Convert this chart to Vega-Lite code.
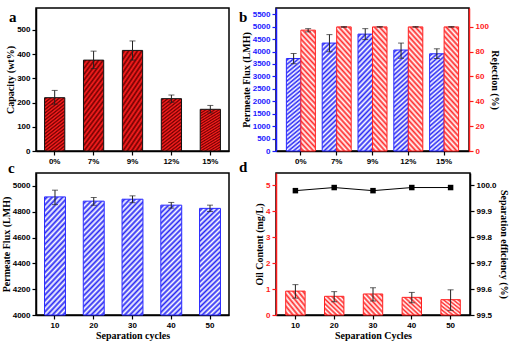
{
  "$schema": "https://vega.github.io/schema/vega-lite/v6.json",
  "padding": {"left": 0, "top": 7, "right": 5, "bottom": 5},
  "background": "white",
  "config": {
    "view": {"stroke": "black", "strokeWidth": 1.5},
    "axis": {"labelFont": "Liberation Sans", "labelFontWeight": "bold", "labelFontSize": 8, "titleFont": "Liberation Serif", "titleFontWeight": "bold", "titleFontSize": 10, "domainColor": "black", "domainWidth": 1.5, "tickColor": "black", "tickSize": 4, "tickWidth": 1.2, "labelColor": "black", "titleColor": "black", "grid": false, "labelPadding": 2, "titlePadding": 1, "labelOverlap": false, "labelBound": false},
    "title": {"font": "Liberation Serif", "fontSize": 15, "fontWeight": "bold", "color": "black", "anchor": "start", "frame": "group"}
  },
  "bounds": "flush",
  "columns": 2,
  "spacing": {"row": 22, "column": 47},
  "concat": [
        {
          "width": 193, "height": 143,
          "title": {"text": "a", "dx": -27, "dy": 21},
          "data": {"values": [
            {"conc": "0%", "capacity": 220, "lo": 193, "hi": 250},
            {"conc": "7%", "capacity": 375, "lo": 340, "hi": 412},
            {"conc": "9%", "capacity": 415, "lo": 375, "hi": 454},
            {"conc": "12%", "capacity": 216, "lo": 201, "hi": 231},
            {"conc": "15%", "capacity": 172, "lo": 157, "hi": 188}
          ]},
          "encoding": {
            "x": {"field": "conc", "type": "nominal", "sort": null, "scale": {"paddingInner": 0.48, "paddingOuter": 0.22}, "axis": {"title": null, "labelAngle": 0}}
          },
          "layer": [
            {"mark": {"type": "bar", "stroke": "#111111", "strokeWidth": 1,
               "fill": {"gradient": "linear", "x1": 0, "y1": 0, "x2": 0.358, "y2": 1.193, "stops": [
                 {"offset": 0, "color": "#ff2020"}, {"offset": 0.025, "color": "#700000"}, {"offset": 0.05, "color": "#ff2020"}, {"offset": 0.075, "color": "#700000"},
                 {"offset": 0.1, "color": "#ff2020"}, {"offset": 0.125, "color": "#700000"}, {"offset": 0.15, "color": "#ff2020"}, {"offset": 0.175, "color": "#700000"},
                 {"offset": 0.2, "color": "#ff2020"}, {"offset": 0.225, "color": "#700000"}, {"offset": 0.25, "color": "#ff2020"}, {"offset": 0.275, "color": "#700000"},
                 {"offset": 0.3, "color": "#ff2020"}, {"offset": 0.325, "color": "#700000"}, {"offset": 0.35, "color": "#ff2020"}, {"offset": 0.375, "color": "#700000"},
                 {"offset": 0.4, "color": "#ff2020"}, {"offset": 0.425, "color": "#700000"}, {"offset": 0.45, "color": "#ff2020"}, {"offset": 0.475, "color": "#700000"},
                 {"offset": 0.5, "color": "#ff2020"}, {"offset": 0.525, "color": "#700000"}, {"offset": 0.55, "color": "#ff2020"}, {"offset": 0.575, "color": "#700000"},
                 {"offset": 0.6, "color": "#ff2020"}, {"offset": 0.625, "color": "#700000"}, {"offset": 0.65, "color": "#ff2020"}, {"offset": 0.675, "color": "#700000"},
                 {"offset": 0.7, "color": "#ff2020"}, {"offset": 0.725, "color": "#700000"}, {"offset": 0.75, "color": "#ff2020"}, {"offset": 0.775, "color": "#700000"},
                 {"offset": 0.8, "color": "#ff2020"}, {"offset": 0.825, "color": "#700000"}, {"offset": 0.85, "color": "#ff2020"}, {"offset": 0.875, "color": "#700000"},
                 {"offset": 0.9, "color": "#ff2020"}, {"offset": 0.925, "color": "#700000"}, {"offset": 0.95, "color": "#ff2020"}, {"offset": 0.975, "color": "#700000"},
                 {"offset": 1, "color": "#ff2020"}]}},
             "encoding": {"y": {"field": "capacity", "type": "quantitative", "scale": {"domain": [0, 590], "nice": false}, "axis": {"title": "Capacity (wt%)", "values": [0, 100, 200, 300, 400, 500]}}}},
            {"mark": {"type": "rule", "color": "#222222", "strokeWidth": 1}, "encoding": {"y": {"field": "lo", "type": "quantitative", "axis": {"title": "Capacity (wt%)", "values": [0, 100, 200, 300, 400, 500]}}, "y2": {"field": "hi"}}},
            {"mark": {"type": "tick", "color": "#222222", "size": 6, "thickness": 1}, "encoding": {"y": {"field": "lo", "type": "quantitative", "axis": {"title": "Capacity (wt%)", "values": [0, 100, 200, 300, 400, 500]}}}},
            {"mark": {"type": "tick", "color": "#222222", "size": 6, "thickness": 1}, "encoding": {"y": {"field": "hi", "type": "quantitative", "axis": {"title": "Capacity (wt%)", "values": [0, 100, 200, 300, 400, 500]}}}}
          ]
        },
        {
          "width": 193, "height": 143,
          "title": {"text": "b", "dx": -37, "dy": 21},
          "data": {"values": [
            {"conc": "0%", "series": "flux", "value": 3720, "lo": 3510, "hi": 3920},
            {"conc": "7%", "series": "flux", "value": 4340, "lo": 3990, "hi": 4680},
            {"conc": "9%", "series": "flux", "value": 4700, "lo": 4480, "hi": 4920},
            {"conc": "12%", "series": "flux", "value": 4060, "lo": 3730, "hi": 4340},
            {"conc": "15%", "series": "flux", "value": 3910, "lo": 3720, "hi": 4110},
            {"conc": "0%", "series": "rej", "value": 97.2, "lo": 95.8, "hi": 98.4},
            {"conc": "7%", "series": "rej", "value": 99.8, "lo": 99.5, "hi": 100.0},
            {"conc": "9%", "series": "rej", "value": 99.8, "lo": 99.6, "hi": 100.0},
            {"conc": "12%", "series": "rej", "value": 99.8, "lo": 99.6, "hi": 100.0},
            {"conc": "15%", "series": "rej", "value": 99.8, "lo": 99.6, "hi": 100.0}
          ]},
          "encoding": {
            "x": {"field": "conc", "type": "nominal", "sort": null, "scale": {"paddingInner": 0.19, "paddingOuter": 0.29}, "axis": {"title": null, "labelAngle": 0}},
            "xOffset": {"field": "series", "type": "nominal", "scale": {"domain": ["flux", "rej"], "paddingInner": 0, "paddingOuter": 0}}
          },
          "layer": [
            {
              "transform": [{"filter": "datum.series === 'flux'"}],
              "layer": [
                {"mark": {"type": "bar", "stroke": "#2a2aff", "strokeWidth": 1,
                   "fill": {"gradient": "linear", "x1": 0, "y1": 0, "x2": 0.144, "y2": 1.111, "stops": [
                     {"offset": 0, "color": "#ffffff"}, {"offset": 0.02, "color": "#2828f4"}, {"offset": 0.04, "color": "#ffffff"}, {"offset": 0.06, "color": "#2828f4"},
                     {"offset": 0.08, "color": "#ffffff"}, {"offset": 0.1, "color": "#2828f4"}, {"offset": 0.12, "color": "#ffffff"}, {"offset": 0.14, "color": "#2828f4"},
                     {"offset": 0.16, "color": "#ffffff"}, {"offset": 0.18, "color": "#2828f4"}, {"offset": 0.2, "color": "#ffffff"}, {"offset": 0.22, "color": "#2828f4"},
                     {"offset": 0.24, "color": "#ffffff"}, {"offset": 0.26, "color": "#2828f4"}, {"offset": 0.28, "color": "#ffffff"}, {"offset": 0.3, "color": "#2828f4"},
                     {"offset": 0.32, "color": "#ffffff"}, {"offset": 0.34, "color": "#2828f4"}, {"offset": 0.36, "color": "#ffffff"}, {"offset": 0.38, "color": "#2828f4"},
                     {"offset": 0.4, "color": "#ffffff"}, {"offset": 0.42, "color": "#2828f4"}, {"offset": 0.44, "color": "#ffffff"}, {"offset": 0.46, "color": "#2828f4"},
                     {"offset": 0.48, "color": "#ffffff"}, {"offset": 0.5, "color": "#2828f4"}, {"offset": 0.52, "color": "#ffffff"}, {"offset": 0.54, "color": "#2828f4"},
                     {"offset": 0.56, "color": "#ffffff"}, {"offset": 0.58, "color": "#2828f4"}, {"offset": 0.6, "color": "#ffffff"}, {"offset": 0.62, "color": "#2828f4"},
                     {"offset": 0.64, "color": "#ffffff"}, {"offset": 0.66, "color": "#2828f4"}, {"offset": 0.68, "color": "#ffffff"}, {"offset": 0.7, "color": "#2828f4"},
                     {"offset": 0.72, "color": "#ffffff"}, {"offset": 0.74, "color": "#2828f4"}, {"offset": 0.76, "color": "#ffffff"}, {"offset": 0.78, "color": "#2828f4"},
                     {"offset": 0.8, "color": "#ffffff"}, {"offset": 0.82, "color": "#2828f4"}, {"offset": 0.84, "color": "#ffffff"}, {"offset": 0.86, "color": "#2828f4"},
                     {"offset": 0.88, "color": "#ffffff"}, {"offset": 0.9, "color": "#2828f4"}, {"offset": 0.92, "color": "#ffffff"}, {"offset": 0.94, "color": "#2828f4"},
                     {"offset": 0.96, "color": "#ffffff"}, {"offset": 0.98, "color": "#2828f4"}, {"offset": 1, "color": "#ffffff"}]}},
                 "encoding": {"y": {"field": "value", "type": "quantitative", "scale": {"domain": [0, 5750], "nice": false}, "axis": {"title": "Permeate Flux (LMH)", "orient": "left", "format": "d", "values": [0, 500, 1000, 1500, 2000, 2500, 3000, 3500, 4000, 4500, 5000, 5500], "labelColor": "#1a1aff", "tickColor": "#1a1aff", "domainColor": "#1a1aff"}}}},
                {"mark": {"type": "rule", "color": "#222222", "strokeWidth": 1}, "encoding": {"y": {"field": "lo", "type": "quantitative", "axis": {"title": "Permeate Flux (LMH)", "orient": "left", "format": "d", "values": [0, 500, 1000, 1500, 2000, 2500, 3000, 3500, 4000, 4500, 5000, 5500], "labelColor": "#1a1aff", "tickColor": "#1a1aff", "domainColor": "#1a1aff"}}, "y2": {"field": "hi"}}},
                {"mark": {"type": "tick", "color": "#222222", "size": 6, "thickness": 1}, "encoding": {"y": {"field": "lo", "type": "quantitative", "axis": {"title": "Permeate Flux (LMH)", "orient": "left", "format": "d", "values": [0, 500, 1000, 1500, 2000, 2500, 3000, 3500, 4000, 4500, 5000, 5500], "labelColor": "#1a1aff", "tickColor": "#1a1aff", "domainColor": "#1a1aff"}}}},
                {"mark": {"type": "tick", "color": "#222222", "size": 6, "thickness": 1}, "encoding": {"y": {"field": "hi", "type": "quantitative", "axis": {"title": "Permeate Flux (LMH)", "orient": "left", "format": "d", "values": [0, 500, 1000, 1500, 2000, 2500, 3000, 3500, 4000, 4500, 5000, 5500], "labelColor": "#1a1aff", "tickColor": "#1a1aff", "domainColor": "#1a1aff"}}}}
              ]
            },
            {
              "transform": [{"filter": "datum.series === 'rej'"}],
              "layer": [
                {"mark": {"type": "bar", "stroke": "#ff2020", "strokeWidth": 1,
                   "fill": {"gradient": "linear", "x1": 0, "y1": 1, "x2": 0.144, "y2": -0.111, "stops": [
                     {"offset": 0, "color": "#ffffff"}, {"offset": 0.02, "color": "#ff2a2a"}, {"offset": 0.04, "color": "#ffffff"}, {"offset": 0.06, "color": "#ff2a2a"},
                     {"offset": 0.08, "color": "#ffffff"}, {"offset": 0.1, "color": "#ff2a2a"}, {"offset": 0.12, "color": "#ffffff"}, {"offset": 0.14, "color": "#ff2a2a"},
                     {"offset": 0.16, "color": "#ffffff"}, {"offset": 0.18, "color": "#ff2a2a"}, {"offset": 0.2, "color": "#ffffff"}, {"offset": 0.22, "color": "#ff2a2a"},
                     {"offset": 0.24, "color": "#ffffff"}, {"offset": 0.26, "color": "#ff2a2a"}, {"offset": 0.28, "color": "#ffffff"}, {"offset": 0.3, "color": "#ff2a2a"},
                     {"offset": 0.32, "color": "#ffffff"}, {"offset": 0.34, "color": "#ff2a2a"}, {"offset": 0.36, "color": "#ffffff"}, {"offset": 0.38, "color": "#ff2a2a"},
                     {"offset": 0.4, "color": "#ffffff"}, {"offset": 0.42, "color": "#ff2a2a"}, {"offset": 0.44, "color": "#ffffff"}, {"offset": 0.46, "color": "#ff2a2a"},
                     {"offset": 0.48, "color": "#ffffff"}, {"offset": 0.5, "color": "#ff2a2a"}, {"offset": 0.52, "color": "#ffffff"}, {"offset": 0.54, "color": "#ff2a2a"},
                     {"offset": 0.56, "color": "#ffffff"}, {"offset": 0.58, "color": "#ff2a2a"}, {"offset": 0.6, "color": "#ffffff"}, {"offset": 0.62, "color": "#ff2a2a"},
                     {"offset": 0.64, "color": "#ffffff"}, {"offset": 0.66, "color": "#ff2a2a"}, {"offset": 0.68, "color": "#ffffff"}, {"offset": 0.7, "color": "#ff2a2a"},
                     {"offset": 0.72, "color": "#ffffff"}, {"offset": 0.74, "color": "#ff2a2a"}, {"offset": 0.76, "color": "#ffffff"}, {"offset": 0.78, "color": "#ff2a2a"},
                     {"offset": 0.8, "color": "#ffffff"}, {"offset": 0.82, "color": "#ff2a2a"}, {"offset": 0.84, "color": "#ffffff"}, {"offset": 0.86, "color": "#ff2a2a"},
                     {"offset": 0.88, "color": "#ffffff"}, {"offset": 0.9, "color": "#ff2a2a"}, {"offset": 0.92, "color": "#ffffff"}, {"offset": 0.94, "color": "#ff2a2a"},
                     {"offset": 0.96, "color": "#ffffff"}, {"offset": 0.98, "color": "#ff2a2a"}, {"offset": 1, "color": "#ffffff"}]}},
                 "encoding": {"y": {"field": "value", "type": "quantitative", "scale": {"domain": [0, 115], "nice": false}, "axis": {"title": "Rejection (%)", "orient": "right", "values": [0, 20, 40, 60, 80, 100], "labelColor": "#ff1a1a", "tickColor": "#ff1a1a", "domainColor": "#ff1a1a"}}}},
                {"mark": {"type": "rule", "color": "#222222", "strokeWidth": 1}, "encoding": {"y": {"field": "lo", "type": "quantitative", "axis": {"title": "Rejection (%)", "orient": "right", "values": [0, 20, 40, 60, 80, 100], "labelColor": "#ff1a1a", "tickColor": "#ff1a1a", "domainColor": "#ff1a1a"}}, "y2": {"field": "hi"}}},
                {"mark": {"type": "tick", "color": "#222222", "size": 6, "thickness": 1}, "encoding": {"y": {"field": "lo", "type": "quantitative", "axis": {"title": "Rejection (%)", "orient": "right", "values": [0, 20, 40, 60, 80, 100], "labelColor": "#ff1a1a", "tickColor": "#ff1a1a", "domainColor": "#ff1a1a"}}}},
                {"mark": {"type": "tick", "color": "#222222", "size": 6, "thickness": 1}, "encoding": {"y": {"field": "hi", "type": "quantitative", "axis": {"title": "Rejection (%)", "orient": "right", "values": [0, 20, 40, 60, 80, 100], "labelColor": "#ff1a1a", "tickColor": "#ff1a1a", "domainColor": "#ff1a1a"}}}}
              ]
            }
          ],
          "resolve": {"scale": {"y": "independent"}}
        },
        {
          "width": 193, "height": 142,
          "title": {"text": "c", "dx": -28, "dy": 7},
          "data": {"values": [
            {"cycle": "10", "flux": 4915, "lo": 4855, "hi": 4967},
            {"cycle": "20", "flux": 4882, "lo": 4850, "hi": 4910},
            {"cycle": "30", "flux": 4897, "lo": 4870, "hi": 4923},
            {"cycle": "40", "flux": 4851, "lo": 4828, "hi": 4872},
            {"cycle": "50", "flux": 4826, "lo": 4802, "hi": 4851}
          ]},
          "encoding": {
            "x": {"field": "cycle", "type": "nominal", "sort": null, "scale": {"paddingInner": 0.46, "paddingOuter": 0.22}, "axis": {"title": "Separation cycles", "labelAngle": 0}}
          },
          "layer": [
            {"mark": {"type": "bar", "stroke": "#2a2aff", "strokeWidth": 1,
               "fill": {"gradient": "linear", "x1": 0, "y1": 0, "x2": 0.218, "y2": 1.149, "stops": [
                 {"offset": 0, "color": "#ffffff"}, {"offset": 0.02, "color": "#2828f4"}, {"offset": 0.04, "color": "#ffffff"}, {"offset": 0.06, "color": "#2828f4"},
                 {"offset": 0.08, "color": "#ffffff"}, {"offset": 0.1, "color": "#2828f4"}, {"offset": 0.12, "color": "#ffffff"}, {"offset": 0.14, "color": "#2828f4"},
                 {"offset": 0.16, "color": "#ffffff"}, {"offset": 0.18, "color": "#2828f4"}, {"offset": 0.2, "color": "#ffffff"}, {"offset": 0.22, "color": "#2828f4"},
                 {"offset": 0.24, "color": "#ffffff"}, {"offset": 0.26, "color": "#2828f4"}, {"offset": 0.28, "color": "#ffffff"}, {"offset": 0.3, "color": "#2828f4"},
                 {"offset": 0.32, "color": "#ffffff"}, {"offset": 0.34, "color": "#2828f4"}, {"offset": 0.36, "color": "#ffffff"}, {"offset": 0.38, "color": "#2828f4"},
                 {"offset": 0.4, "color": "#ffffff"}, {"offset": 0.42, "color": "#2828f4"}, {"offset": 0.44, "color": "#ffffff"}, {"offset": 0.46, "color": "#2828f4"},
                 {"offset": 0.48, "color": "#ffffff"}, {"offset": 0.5, "color": "#2828f4"}, {"offset": 0.52, "color": "#ffffff"}, {"offset": 0.54, "color": "#2828f4"},
                 {"offset": 0.56, "color": "#ffffff"}, {"offset": 0.58, "color": "#2828f4"}, {"offset": 0.6, "color": "#ffffff"}, {"offset": 0.62, "color": "#2828f4"},
                 {"offset": 0.64, "color": "#ffffff"}, {"offset": 0.66, "color": "#2828f4"}, {"offset": 0.68, "color": "#ffffff"}, {"offset": 0.7, "color": "#2828f4"},
                 {"offset": 0.72, "color": "#ffffff"}, {"offset": 0.74, "color": "#2828f4"}, {"offset": 0.76, "color": "#ffffff"}, {"offset": 0.78, "color": "#2828f4"},
                 {"offset": 0.8, "color": "#ffffff"}, {"offset": 0.82, "color": "#2828f4"}, {"offset": 0.84, "color": "#ffffff"}, {"offset": 0.86, "color": "#2828f4"},
                 {"offset": 0.88, "color": "#ffffff"}, {"offset": 0.9, "color": "#2828f4"}, {"offset": 0.92, "color": "#ffffff"}, {"offset": 0.94, "color": "#2828f4"},
                 {"offset": 0.96, "color": "#ffffff"}, {"offset": 0.98, "color": "#2828f4"}, {"offset": 1, "color": "#ffffff"}]}},
             "encoding": {"y": {"field": "flux", "type": "quantitative", "scale": {"domain": [4000, 5100], "nice": false, "zero": false}, "axis": {"title": "Permeate Flux (LMH)", "format": "d", "values": [4000, 4200, 4400, 4600, 4800, 5000]}}, "y2": {"datum": 4000}}},
            {"mark": {"type": "rule", "color": "#222222", "strokeWidth": 1}, "encoding": {"y": {"field": "lo", "type": "quantitative", "axis": {"title": "Permeate Flux (LMH)", "format": "d", "values": [4000, 4200, 4400, 4600, 4800, 5000]}}, "y2": {"field": "hi"}}},
            {"mark": {"type": "tick", "color": "#222222", "size": 6, "thickness": 1}, "encoding": {"y": {"field": "lo", "type": "quantitative", "axis": {"title": "Permeate Flux (LMH)", "format": "d", "values": [4000, 4200, 4400, 4600, 4800, 5000]}}}},
            {"mark": {"type": "tick", "color": "#222222", "size": 6, "thickness": 1}, "encoding": {"y": {"field": "hi", "type": "quantitative", "axis": {"title": "Permeate Flux (LMH)", "format": "d", "values": [4000, 4200, 4400, 4600, 4800, 5000]}}}}
          ]
        },
        {
          "width": 194, "height": 142,
          "title": {"text": "d", "dx": -37, "dy": 6},
          "data": {"values": [
            {"cycle": "10", "oil": 0.92, "lo": 0.65, "hi": 1.17, "eff": 99.979},
            {"cycle": "20", "oil": 0.72, "lo": 0.51, "hi": 0.90, "eff": 99.991},
            {"cycle": "30", "oil": 0.81, "lo": 0.54, "hi": 1.05, "eff": 99.979},
            {"cycle": "40", "oil": 0.68, "lo": 0.47, "hi": 0.87, "eff": 99.991},
            {"cycle": "50", "oil": 0.59, "lo": 0.18, "hi": 0.97, "eff": 99.991}
          ]},
          "encoding": {
            "x": {"field": "cycle", "type": "nominal", "sort": null, "scale": {"paddingInner": 0.5, "paddingOuter": 0.25}, "axis": {"title": "Separation Cycles", "labelAngle": 0}}
          },
          "layer": [
            {
              "layer": [
                {"mark": {"type": "bar", "stroke": "#ff2020", "strokeWidth": 1,
                   "fill": {"gradient": "linear", "x1": 0, "y1": 1, "x2": 1, "y2": 0, "stops": [
                     {"offset": 0, "color": "#ffffff"}, {"offset": 0.0625, "color": "#ff2a2a"}, {"offset": 0.125, "color": "#ffffff"}, {"offset": 0.1875, "color": "#ff2a2a"},
                     {"offset": 0.25, "color": "#ffffff"}, {"offset": 0.3125, "color": "#ff2a2a"}, {"offset": 0.375, "color": "#ffffff"}, {"offset": 0.4375, "color": "#ff2a2a"},
                     {"offset": 0.5, "color": "#ffffff"}, {"offset": 0.5625, "color": "#ff2a2a"}, {"offset": 0.625, "color": "#ffffff"}, {"offset": 0.6875, "color": "#ff2a2a"},
                     {"offset": 0.75, "color": "#ffffff"}, {"offset": 0.8125, "color": "#ff2a2a"}, {"offset": 0.875, "color": "#ffffff"}, {"offset": 0.9375, "color": "#ff2a2a"},
                     {"offset": 1, "color": "#ffffff"}]}},
                 "encoding": {"y": {"field": "oil", "type": "quantitative", "scale": {"domain": [0, 5.47], "nice": false}, "axis": {"title": "Oil Content (mg/L)", "orient": "left", "values": [0, 1, 2, 3, 4, 5], "labelColor": "#ff1a1a", "tickColor": "#ff1a1a", "domainColor": "#ff1a1a"}}}},
                {"mark": {"type": "rule", "color": "#222222", "strokeWidth": 1}, "encoding": {"y": {"field": "lo", "type": "quantitative", "axis": {"title": "Oil Content (mg/L)", "orient": "left", "values": [0, 1, 2, 3, 4, 5], "labelColor": "#ff1a1a", "tickColor": "#ff1a1a", "domainColor": "#ff1a1a"}}, "y2": {"field": "hi"}}},
                {"mark": {"type": "tick", "color": "#222222", "size": 6, "thickness": 1}, "encoding": {"y": {"field": "lo", "type": "quantitative", "axis": {"title": "Oil Content (mg/L)", "orient": "left", "values": [0, 1, 2, 3, 4, 5], "labelColor": "#ff1a1a", "tickColor": "#ff1a1a", "domainColor": "#ff1a1a"}}}},
                {"mark": {"type": "tick", "color": "#222222", "size": 6, "thickness": 1}, "encoding": {"y": {"field": "hi", "type": "quantitative", "axis": {"title": "Oil Content (mg/L)", "orient": "left", "values": [0, 1, 2, 3, 4, 5], "labelColor": "#ff1a1a", "tickColor": "#ff1a1a", "domainColor": "#ff1a1a"}}}}
              ]
            },
            {
              "mark": {"type": "line", "color": "black", "strokeWidth": 1, "point": {"shape": "square", "size": 30, "filled": true, "color": "black"}},
              "encoding": {"y": {"field": "eff", "type": "quantitative", "scale": {"domain": [99.5, 100.047], "nice": false, "zero": false}, "axis": {"title": "Separation efficiency (%)", "orient": "right", "values": [99.5, 99.6, 99.7, 99.8, 99.9, 100.0], "format": ".1f", "titlePadding": 2}}}
            }
          ],
          "resolve": {"scale": {"y": "independent"}}
        }
  ]
}
